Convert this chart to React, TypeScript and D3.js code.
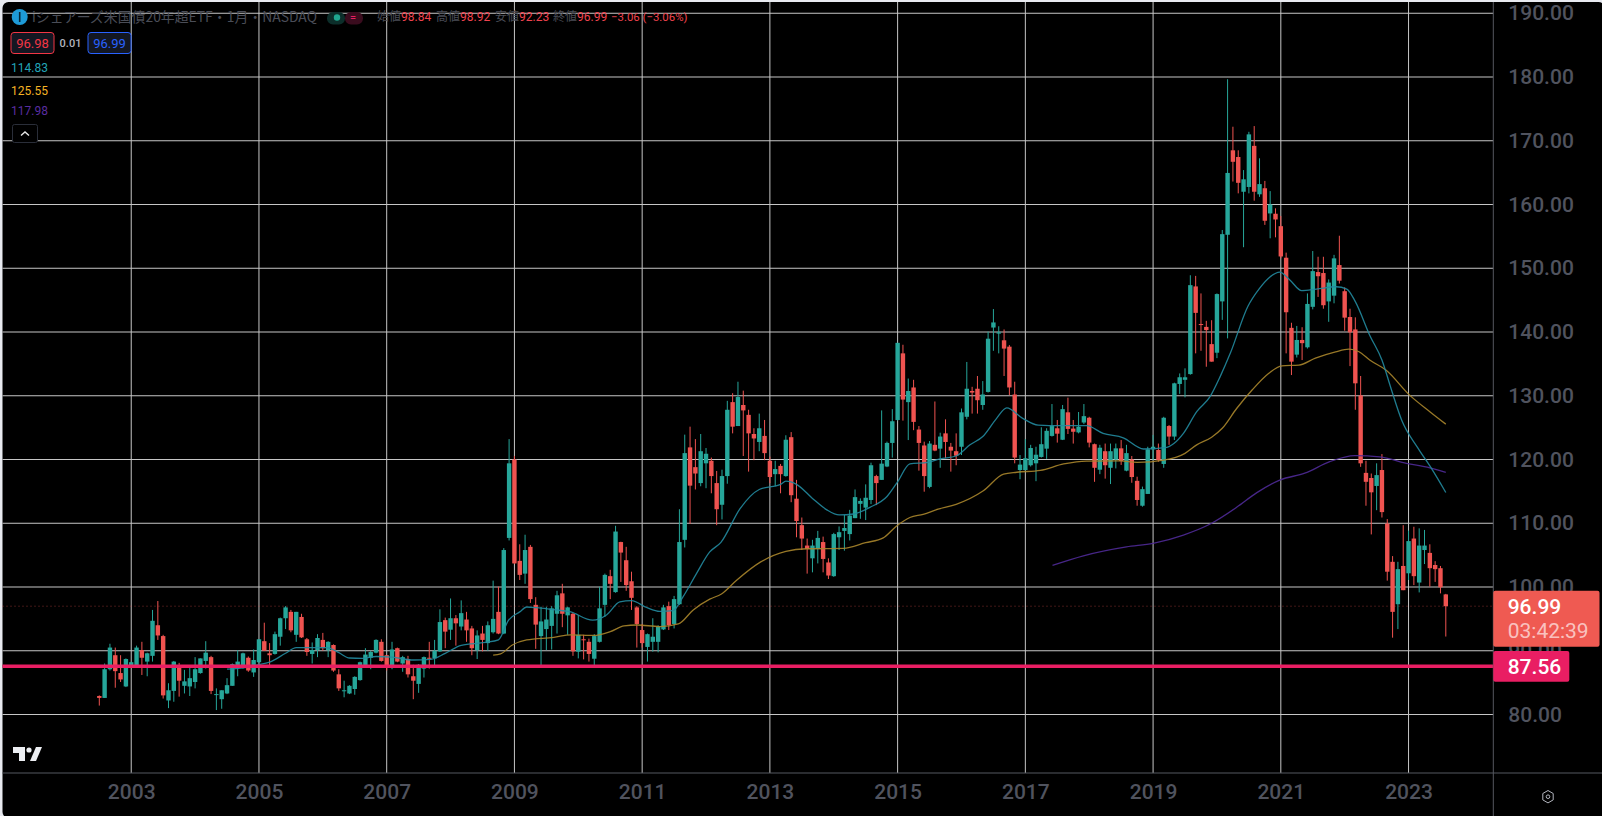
import React, { useEffect, useRef } from 'react';
import * as d3 from 'd3';

// monthly bars, first one is 2002-07
const firstYear = 2002;
const firstMonth = 6;

const opens = [
  82.9, 82.6, 87.1, 89.3, 86.5, 84.4,
  87.6, 87.6, 90.1, 88.3, 89.2, 94.0, 92.3, 82.2, 83.7, 87.6, 84.5, 84.4,
  85.1, 86.5, 88.4, 89.0, 83.1, 82.4, 83.3, 84.5, 87.6, 87.4, 88.9, 86.6,
  88.2, 91.5, 89.6, 89.5, 92.2, 95.1, 96.1, 92.5, 95.3, 91.8, 89.5, 90.1,
  91.7, 90.1, 90.9, 86.3, 83.7, 83.3, 84.0, 85.4, 87.7, 88.9, 89.7, 91.4,
  89.3, 87.7, 90.4, 88.0, 88.7, 86.0, 84.8, 87.2, 88.9, 88.8, 89.9, 94.8,
  93.3, 95.1, 93.8, 94.9, 93.5, 90.1, 92.7, 91.2, 92.9, 96.1, 92.7, 107.7,
  120.0, 104.1, 102.1, 106.3, 97.2, 92.3, 93.4, 93.9, 95.8, 99.0, 95.55, 95.8,
  89.85, 91.8, 91.4, 88.75, 91.4, 97.2, 101.7, 99.2, 107.05, 104.2, 100.9, 96.8,
  93.25, 90.6, 91.4, 91.4, 93.35, 97.0, 94.2, 97.3, 107.4, 121.9, 118.8, 116.3,
  119.4, 119.8, 116.3, 112.9, 117.4, 129.0, 125.25, 128.55, 127.0, 124.0, 122.75, 123.7,
  119.8, 117.7, 119.0, 117.4, 123.5, 113.85, 109.7, 106.5, 104.5, 105.95, 107.05, 103.85,
  101.7, 107.8, 108.8, 108.3, 110.8, 113.05, 112.45, 113.65, 117.4, 116.8, 118.9, 122.6,
  126.2, 136.65, 129.0, 131.3, 124.7, 122.2, 115.7, 122.3, 121.7, 124.1, 122.0, 121.3,
  122.0, 126.7, 130.75, 131.1, 128.55, 130.6, 140.7, 139.75, 138.7, 137.7, 130.2, 118.35,
  118.35, 119.1, 119.4, 120.4, 121.7, 123.7, 124.9, 123.1, 127.4, 124.85, 124.25, 125.8,
  126.55, 122.4, 118.4, 121.3, 118.7, 120.0, 121.75, 118.25, 120.0, 116.65, 112.75, 114.6,
  121.6, 121.5, 119.3, 125.25, 123.6, 131.85, 132.5, 133.4, 147.15, 141.25, 140.8, 138.1,
  136.75, 144.8, 155.25, 168.5, 167.45, 162.0, 162.75, 169.2, 161.6, 162.55, 158.6, 158.55,
  156.6, 151.65, 140.65, 136.45, 138.75, 137.6, 143.95, 149.4, 149.25, 144.8, 145.7, 150.5,
  146.4, 142.35, 140.4, 130.05, 117.9, 117.1, 115.85, 118.35, 109.95, 103.95, 97.3, 103.3,
  102.15, 107.6, 100.7, 105.8, 105.35, 103.45, 102.95, 98.84,
];

const closes = [
  82.6, 87.1, 90.5, 86.8, 85.5, 88.7,
  88.2, 90.5, 88.9, 89.6, 94.7, 92.4, 83.0, 83.8, 88.3, 85.3, 85.2, 85.7,
  87.1, 88.8, 89.7, 83.7, 83.2, 83.8, 84.6, 87.9, 88.3, 89.6, 86.9, 88.55,
  91.8, 90.0, 89.3, 92.6, 95.1, 96.8, 93.2, 96.1, 92.1, 89.8, 90.1, 92.0,
  90.4, 91.4, 86.9, 84.1, 83.8, 84.5, 85.9, 88.2, 89.4, 89.8, 91.7, 88.4,
  87.5, 90.2, 88.3, 89.0, 86.3, 85.3, 87.8, 89.0, 88.8, 90.0, 94.5, 93.0,
  95.1, 94.3, 95.9, 93.2, 90.4, 92.4, 91.7, 94.0, 95.0, 92.7, 105.8, 119.4,
  103.7, 101.9, 105.8, 98.1, 94.1, 94.6, 94.9, 96.65, 98.7, 95.8, 96.8, 89.9,
  92.5, 91.7, 89.5, 92.3, 96.65, 101.9, 100.5, 108.7, 105.4, 100.3, 98.3, 94.2,
  91.2, 92.6, 92.2, 93.8, 96.8, 94.0, 98.1, 107.05, 121.0, 115.9, 117.8, 121.3,
  120.9, 117.4, 112.2, 117.4, 127.8, 125.15, 129.8, 127.7, 124.1, 123.3, 124.9, 121.0,
  117.25, 118.5, 117.7, 123.1, 114.4, 110.35, 107.6, 105.95, 106.5, 107.7, 104.4, 101.8,
  108.3, 108.6, 109.25, 111.2, 114.1, 113.5, 114.0, 119.1, 116.3, 119.35, 122.6, 126.0,
  138.3, 129.4, 130.75, 125.9, 122.6, 117.4, 122.5, 121.4, 123.6, 122.75, 121.4, 120.6,
  127.4, 131.1, 130.5, 129.3, 130.2, 138.95, 141.5, 139.95, 137.4, 131.3, 120.3, 119.2,
  120.2, 121.8, 120.75, 122.4, 124.5, 125.25, 124.05, 127.9, 124.8, 124.35, 125.15, 126.8,
  122.65, 118.7, 121.85, 119.1, 121.3, 121.75, 119.75, 121.0, 117.25, 113.65, 115.35, 121.6,
  122.0, 119.9, 126.55, 123.6, 131.95, 132.9, 132.9, 147.35, 143.0, 141.15, 140.3, 135.35,
  145.95, 155.35, 164.95, 166.7, 163.4, 163.95, 171.0, 162.0, 163.2, 157.45, 160.0, 157.65,
  151.85, 143.1, 135.35, 138.75, 138.25, 144.4, 149.55, 148.75, 144.2, 147.75, 151.55, 148.05,
  142.25, 139.95, 131.95, 119.4, 116.5, 114.85, 117.55, 111.75, 102.4, 96.1, 102.8, 99.5,
  107.2, 101.7, 106.5, 106.5, 102.95, 102.8, 99.95, 96.99,
];

const highs = [
  83.0, 88.0, 91.1, 90.5, 89.3, 88.8,
  88.3, 90.8, 91.4, 89.7, 96.4, 97.8, 92.5, 84.9, 88.4, 88.1, 87.0, 87.4,
  89.0, 88.8, 91.5, 89.2, 84.1, 83.8, 85.7, 88.0, 90.1, 89.7, 89.1, 90.2,
  91.8, 94.4, 91.2, 93.0, 95.2, 97.0, 96.4, 96.1, 95.8, 92.0, 91.3, 92.6,
  92.8, 91.5, 91.0, 87.1, 85.3, 84.6, 86.0, 88.3, 90.4, 90.0, 91.8, 91.8,
  89.3, 91.4, 90.5, 89.2, 89.2, 87.8, 87.9, 89.1, 91.4, 91.7, 96.5, 95.2,
  98.2, 95.6, 97.9, 96.1, 93.9, 93.2, 93.9, 94.6, 101.0, 100.05, 106.1, 123.2,
  120.55, 106.7, 108.2, 106.6, 98.4, 96.9, 96.9, 97.0, 99.4, 100.5, 96.9, 96.0,
  95.6, 92.5, 91.9, 92.6, 100.05, 102.1, 102.7, 109.6, 107.1, 106.3, 102.4, 97.0,
  94.2, 92.7, 95.1, 94.0, 97.2, 97.7, 98.6, 112.2, 123.9, 125.15, 123.2, 124.0,
  121.8, 120.3, 118.2, 118.4, 129.2, 130.4, 132.2, 130.8, 127.8, 124.9, 127.2, 126.2,
  120.45, 119.8, 119.3, 123.8, 124.3, 116.8, 110.9, 107.6, 107.4, 108.8, 107.9, 104.5,
  108.5, 109.5, 111.3, 112.1, 115.3, 113.9, 116.1, 119.5, 117.6, 127.7, 122.8, 127.9,
  138.3, 138.0, 132.7, 132.5, 125.25, 122.8, 122.9, 129.1, 124.2, 126.3, 122.6, 124.1,
  128.0, 135.3, 131.4, 133.1, 132.3, 140.05, 143.6, 140.9, 140.4, 137.95, 132.2, 120.7,
  123.2, 122.3, 122.0, 125.05, 124.9, 128.7, 126.2, 128.55, 129.7, 126.2, 127.45, 128.7,
  126.7, 122.5, 122.3, 122.5, 122.5, 122.5, 123.05, 122.3, 120.55, 117.3, 115.75, 122.0,
  123.85, 122.5, 126.7, 125.4, 132.05, 133.5, 134.3, 148.9, 148.8, 146.05, 141.75, 141.85,
  146.05, 156.0, 179.65, 172.2, 168.5, 165.4, 171.4, 172.3, 167.25, 163.7, 162.1, 159.4,
  158.2, 152.45, 141.45, 140.95, 140.75, 146.05, 152.7, 151.8, 151.8, 148.25, 152.1, 155.1,
  147.0, 143.65, 142.3, 133.1, 119.8, 117.8, 119.4, 120.85, 110.65, 104.85, 103.95, 109.7,
  108.85, 109.45, 109.2, 108.95, 106.7, 104.05, 103.3, 98.92,
];

const lows = [
  81.4, 82.6, 86.9, 84.2, 85.1, 84.3,
  87.5, 87.5, 86.2, 86.0, 88.3, 91.7, 82.5, 81.0, 82.0, 82.8, 83.3, 82.9,
  84.1, 86.4, 87.2, 83.2, 80.7, 80.9, 83.2, 84.5, 86.0, 87.2, 86.7, 85.9,
  88.1, 90.0, 87.7, 89.4, 90.8, 93.4, 92.9, 91.4, 92.0, 89.2, 88.0, 89.0,
  90.0, 89.0, 86.7, 83.7, 82.7, 83.2, 83.1, 85.3, 87.5, 87.1, 89.6, 88.3,
  86.9, 87.1, 88.2, 86.7, 85.8, 82.4, 83.4, 85.8, 87.2, 87.4, 89.8, 90.4,
  91.7, 90.8, 93.2, 91.4, 89.3, 88.7, 89.9, 90.0, 92.7, 92.6, 92.6, 107.3,
  103.6, 101.1, 100.5, 97.5, 90.3, 87.6, 90.1, 90.2, 92.7, 93.7, 92.5, 89.2,
  88.8, 88.65, 88.3, 87.5, 91.3, 95.3, 98.1, 99.1, 100.8, 99.4, 96.4, 90.5,
  90.5, 88.3, 89.85, 89.75, 93.25, 93.25, 93.5, 97.2, 106.2, 109.9, 115.3, 115.8,
  115.5, 114.7, 109.7, 110.6, 116.2, 124.1, 125.25, 120.55, 118.1, 119.9, 121.3, 119.9,
  116.3, 115.8, 114.7, 117.3, 113.3, 107.8, 105.8, 102.1, 102.3, 103.7, 102.3, 101.25,
  101.6, 105.8, 105.7, 107.3, 110.8, 110.7, 110.5, 113.0, 112.85, 116.8, 118.8, 120.3,
  126.1, 126.1, 123.05, 124.6, 118.25, 114.95, 115.5, 121.3, 118.7, 120.2, 118.1, 119.1,
  120.7, 126.3, 127.2, 127.2, 127.8, 130.5, 137.05, 136.65, 133.1, 130.1, 119.4, 116.9,
  118.25, 118.9, 116.6, 120.3, 120.1, 123.6, 122.65, 123.05, 124.0, 122.5, 124.1, 125.55,
  121.9, 116.5, 117.7, 117.0, 116.15, 118.6, 119.15, 118.15, 116.35, 112.75, 112.6, 114.6,
  119.9, 119.65, 118.7, 122.3, 123.05, 130.3, 129.75, 133.3, 136.65, 137.05, 134.55, 135.35,
  135.9, 141.9, 139.0, 163.6, 161.75, 153.3, 161.75, 160.6, 161.2, 156.8, 154.7, 154.85,
  151.55, 136.65, 133.25, 136.0, 135.6, 137.4, 143.55, 145.5, 143.65, 141.6, 144.5, 147.6,
  140.2, 134.65, 127.8, 118.85, 112.75, 108.25, 112.05, 110.9, 101.0, 92.05, 93.4, 99.5,
  101.1, 100.3, 99.15, 103.6, 100.05, 100.8, 99.0, 92.23,
];

const cyanBars = [24, 27.7, 29.5, 32, 35, 37, 39, 42.7, 45, 47, 49.5, 52, 55, 59, 62.3, 65, 68, 72.5, 75, 76.9, 79, 80.3, 82.2, 85.3, 88.4, 92.7, 95.3, 97.8, 100, 102.8, 105.3, 107.8, 109.7, 112.2, 114.7, 116.8, 120.4, 124, 128, 129, 131, 134, 136.7, 139, 141.7, 144.8, 148, 150, 152.3, 155.7, 158, 161, 163.6, 166, 168.6, 170.5, 173.5, 176.4, 180.5, 185.5, 188.6, 192.4, 196.2, 200.6, 201.9, 203.7, 206.2, 208.7, 210.6, 212.5, 215.8, 218, 219.9, 221.8, 223.7, 225.9, 228.7, 232.4, 234.4, 236, 238.7, 241, 242.8, 244.7, 247.8, 250.3, 253];
const cyanValues = [87.13, 87.4, 87.76, 88.2, 89.6, 90.5, 90.5, 90.5, 89.7, 88.86, 88.8, 89.1, 89.0, 88.55, 88.65, 89.6, 90.85, 91.3, 91.7, 94.8, 96.1, 96.86, 96.76, 96.44, 96.13, 94.8, 95.6, 97.65, 97.86, 96.8, 96.18, 96.3, 98.5, 102.1, 105.5, 107.0, 112.3, 115.3, 116.1, 116.6, 116.1, 113.9, 112.1, 111.3, 111.45, 112.5, 114.2, 116.5, 119.3, 119.56, 120.08, 120.55, 122.3, 123.6, 126.46, 128.1, 126.46, 125.4, 125.3, 125.3, 124.1, 123.4, 121.65, 121.9, 122.5, 124.1, 127.5, 129.85, 133, 136.65, 144, 146.85, 148.6, 149.4, 148.16, 146.5, 146.74, 147.1, 146.74, 144.76, 139.5, 135.6, 130.9, 126.2, 121.75, 118.6, 114.83];

const goldBars = [74, 75.4, 77.6, 80.3, 85.4, 88.6, 92.9, 96, 98.6, 101, 105.3, 108.8, 111.6, 114.7, 116.9, 119.8, 124.2, 129, 132.9, 139.8, 144, 147.3, 149.7, 152.3, 154.8, 157.6, 161, 166.1, 169.9, 172.4, 176.8, 181.2, 185.5, 191.8, 195, 200, 204, 206.2, 209, 211, 213.7, 216.6, 219.7, 222.2, 225.4, 228.5, 232.3, 234.8, 236.7, 238.7, 241.8, 246.2, 250, 253];
const goldValues = [89.3, 89.5, 90.9, 91.7, 92.1, 92.5, 92.4, 93, 93.9, 94.04, 93.8, 94.2, 96.4, 98.1, 98.9, 101.1, 103.9, 105.6, 106, 106.06, 106.95, 107.7, 109.5, 110.9, 111.4, 112.2, 112.97, 115.1, 117.7, 118, 118.3, 119.3, 119.76, 119.8, 119.55, 119.9, 120.97, 122.3, 123.5, 124.9, 128, 130.9, 133.5, 134.7, 134.8, 135.9, 136.9, 137.3, 136.9, 135.6, 134, 130.1, 127.5, 125.55];

const purpleBars = [179.1, 184.9, 193, 198, 203.7, 209, 213.7, 217.5, 221.9, 226.5, 231.2, 235.9, 240.6, 245.6, 250, 253];
const purpleValues = [103.4, 104.9, 106.3, 106.85, 108.15, 110, 112.5, 114.8, 116.8, 117.85, 119.66, 120.6, 120.4, 119.4, 118.7, 117.98];

const priceTicks = [80, 90, 100, 110, 120, 130, 140, 150, 160, 170, 180, 190];
const yearTicks = [2003, 2005, 2007, 2009, 2011, 2013, 2015, 2017, 2019, 2021, 2023];

const supportLevel = 87.56;
const lastPrice = 96.99;
const countdown = '03:42:39';
const title = 'iシェアーズ米国債20年超ETF・1月・NASDAQ';
const ohlcLegend = [
  { label: '始値', value: '98.84' },
  { label: '高値', value: '98.92' },
  { label: '安値', value: '92.23' },
  { label: '終値', value: '96.99' },
];

const UP = '#26a69a';
const DOWN = '#ef5350';
const PINK = '#e91e63';
const AXIS_TEXT = '#50535e';
const WIDTH = 1602;
const HEIGHT = 816;
const SCALE_X = 1493.3; // left edge of the price scale
const TIME_Y = 773; // top edge of the time scale
const LATIN = 'Roboto, sans-serif';
const CJK = '"Noto Sans CJK JP", Roboto, sans-serif';

const App: React.FC = () => {
  const svgRef = useRef<SVGSVGElement | null>(null);

  useEffect(() => {
    if (!svgRef.current) return;
    document.body.style.margin = '0';

    const svg = d3.select(svgRef.current);
    svg.selectAll('*').remove();

    const x = d3.scaleLinear().domain([0, opens.length - 1]).range([99.3, 1445.8]);
    const y = d3.scaleLinear().domain([80, 190]).range([714.5, 13.25]);
    const yearToBar = (year: number) => (year - firstYear) * 12 - firstMonth;

    // window frame and background
    svg.append('rect').attr('width', WIDTH).attr('height', HEIGHT).attr('fill', '#e8eaf0');
    svg.append('rect').attr('x', 2.5).attr('y', 2).attr('width', WIDTH).attr('height', HEIGHT)
      .attr('rx', 6).attr('fill', '#000');

    // grid
    const grid = svg.append('g').attr('stroke', '#c6c6c6').attr('stroke-width', 1);
    grid.selectAll('.h').data(priceTicks).enter().append('line')
      .attr('x1', 2.5).attr('x2', SCALE_X).attr('y1', d => y(d)).attr('y2', d => y(d));
    grid.selectAll('.v').data(yearTicks).enter().append('line')
      .attr('x1', d => x(yearToBar(d))).attr('x2', d => x(yearToBar(d)))
      .attr('y1', 2).attr('y2', TIME_Y);

    // last price dotted line
    svg.append('line')
      .attr('x1', 2.5).attr('x2', SCALE_X).attr('y1', y(lastPrice)).attr('y2', y(lastPrice))
      .attr('stroke', DOWN).attr('stroke-opacity', 0.55).attr('stroke-dasharray', '1 3');

    // candles
    const bars = d3.range(opens.length);
    const colorOf = (i: number) => (closes[i] >= opens[i] ? UP : DOWN);
    svg.append('g').selectAll('line').data(bars).enter().append('line')
      .attr('x1', i => x(i)).attr('x2', i => x(i))
      .attr('y1', i => y(highs[i])).attr('y2', i => y(lows[i]))
      .attr('stroke', colorOf).attr('stroke-width', 1);
    svg.append('g').selectAll('rect').data(bars).enter().append('rect')
      .attr('x', i => x(i) - 2.2).attr('width', 4.4)
      .attr('y', i => y(Math.max(opens[i], closes[i])))
      .attr('height', i => Math.max(1, Math.abs(y(opens[i]) - y(closes[i]))))
      .attr('fill', colorOf);

    // moving averages
    const drawAverage = (barsAt: number[], values: number[], color: string) => {
      const line = d3.line<number>()
        .x(d => x(d))
        .y((_, i) => y(values[i]))
        .curve(d3.curveMonotoneX);
      svg.append('path')
        .attr('d', line(barsAt))
        .attr('fill', 'none')
        .attr('stroke', color)
        .attr('stroke-width', 1.3)
        .attr('stroke-opacity', 0.9);
    };
    drawAverage(purpleBars, purpleValues, '#4f2a97');
    drawAverage(goldBars, goldValues, '#a9852b');
    drawAverage(cyanBars, cyanValues, '#22899f');

    // horizontal level
    svg.append('line')
      .attr('x1', 2.5).attr('x2', SCALE_X).attr('y1', y(supportLevel)).attr('y2', y(supportLevel))
      .attr('stroke', PINK).attr('stroke-width', 3.6);

    // scales
    svg.append('line').attr('x1', SCALE_X).attr('x2', SCALE_X).attr('y1', 2).attr('y2', HEIGHT)
      .attr('stroke', '#555860');
    svg.append('line').attr('x1', 2.5).attr('x2', WIDTH).attr('y1', TIME_Y).attr('y2', TIME_Y)
      .attr('stroke', '#555860');

    const yAxis = svg.append('g')
      .attr('transform', `translate(${SCALE_X},0)`)
      .call(d3.axisRight(y).tickValues(priceTicks).tickFormat(d => d3.format('.2f')(d as number)).tickSize(0).tickPadding(15));
    const xAxis = svg.append('g')
      .attr('transform', `translate(0,${TIME_Y})`)
      .call(d3.axisBottom(x).tickValues(yearTicks.map(yearToBar)).tickFormat(d => String(yearTicks[yearTicks.map(yearToBar).indexOf(d as number)])).tickSize(0).tickPadding(11));
    [yAxis, xAxis].forEach(axis => {
      axis.select('.domain').remove();
      axis.selectAll('text')
        .attr('fill', AXIS_TEXT)
        .style('font-family', LATIN)
        .style('font-size', '21px')
        .style('font-weight', 500);
    });

    // price labels on the scale
    const tag = svg.append('g').style('font-family', LATIN).style('font-size', '21px').style('font-weight', 500);
    tag.append('rect').attr('x', SCALE_X).attr('y', 590.7).attr('width', 106.2).attr('height', 56).attr('rx', 2).attr('fill', '#ef5a52');
    tag.append('text').attr('x', 1507.7).attr('y', 613.5).attr('fill', '#fff').text(lastPrice.toFixed(2));
    tag.append('text').attr('x', 1507.7).attr('y', 638).attr('fill', '#fff').attr('fill-opacity', 0.65).style('font-weight', 400).text(countdown);
    tag.append('rect').attr('x', SCALE_X).attr('y', 651).attr('width', 76).attr('height', 30.7).attr('rx', 2).attr('fill', PINK);
    tag.append('text').attr('x', 1507.7).attr('y', 674).attr('fill', '#fff').text(supportLevel.toFixed(2));

    // legend row
    const legend = svg.append('g');
    legend.append('circle').attr('cx', 19.7).attr('cy', 17).attr('r', 8).attr('fill', '#1e9bd8');
    legend.append('rect').attr('x', 18.9).attr('y', 12).attr('width', 1.6).attr('height', 10).attr('fill', '#06283a');
    legend.append('text').attr('x', 32).attr('y', 22).attr('fill', '#4a4d57')
      .style('font-family', CJK).style('font-size', '13.9px').text(title);

    legend.append('rect').attr('x', 327).attr('y', 12).attr('width', 18).attr('height', 12.5).attr('rx', 6).attr('fill', '#0c2e2a');
    legend.append('rect').attr('x', 345).attr('y', 12).attr('width', 18).attr('height', 12.5).attr('rx', 6).attr('fill', '#3a0c1e');
    legend.append('circle').attr('cx', 337).attr('cy', 17.5).attr('r', 3.2).attr('fill', '#1fa58e');
    legend.append('text').attr('x', 353).attr('y', 21).attr('text-anchor', 'middle').attr('fill', PINK)
      .style('font-family', LATIN).style('font-size', '11px').text('=');

    const ohlcX = [377, 436, 495, 553];
    ohlcLegend.forEach((d, i) => {
      legend.append('text').attr('x', ohlcX[i]).attr('y', 21).attr('fill', '#4a4d57')
        .style('font-family', CJK).style('font-size', '12px').text(d.label);
      legend.append('text').attr('x', ohlcX[i] + 24).attr('y', 21).attr('fill', '#f0434f')
        .style('font-family', LATIN).style('font-size', '12px').text(d.value);
    });
    legend.append('text').attr('x', 611).attr('y', 21).attr('fill', '#f0434f')
      .style('font-family', LATIN).style('font-size', '11.4px').text('−3.06 (−3.06%)');

    // bid / ask boxes
    const quote = (bx: number, value: string, color: string) => {
      legend.append('rect').attr('x', bx).attr('y', 32.5).attr('width', 43).attr('height', 21).attr('rx', 3)
        .attr('fill', '#131722').attr('stroke', color);
      legend.append('text').attr('x', bx + 21.5).attr('y', 47.5).attr('text-anchor', 'middle').attr('fill', color)
        .style('font-family', LATIN).style('font-size', '13px').text(value);
    };
    quote(11, '96.98', '#f23645');
    quote(88, '96.99', '#2962ff');
    legend.append('text').attr('x', 70.5).attr('y', 47).attr('text-anchor', 'middle').attr('fill', '#b2b5be')
      .style('font-family', LATIN).style('font-size', '11px').style('font-weight', 500).text('0.01');

    // indicator values
    const indicators = [
      { value: '114.83', color: '#22a5b8', at: 72 },
      { value: '125.55', color: '#f5b324', at: 94.5 },
      { value: '117.98', color: '#5a2da0', at: 115 },
    ];
    indicators.forEach(d => {
      legend.append('text').attr('x', 11).attr('y', d.at).attr('fill', d.color)
        .style('font-family', LATIN).style('font-size', '12px').text(d.value);
    });

    // collapse button
    legend.append('rect').attr('x', 12.5).attr('y', 124.5).attr('width', 25).attr('height', 18).attr('rx', 2)
      .attr('fill', '#000').attr('stroke', '#2a2e39');
    legend.append('path').attr('d', 'M21 135.5l4-3.5 4 3.5').attr('fill', 'none').attr('stroke', '#e8e8e8').attr('stroke-width', 1.4);

    // logo and settings icon
    const logo = svg.append('g').attr('fill', '#eceef2');
    logo.append('path').attr('d', 'M13 747h12v14h-6v-8h-6z');
    logo.append('circle').attr('cx', 29).attr('cy', 750).attr('r', 2.6);
    logo.append('path').attr('d', 'M36 747h6l-6 14h-6z');
    svg.append('path').attr('d', 'M1548 790.5l5.2 3v6.4l-5.2 3-5.2-3v-6.4z').attr('fill', 'none').attr('stroke', '#b2b5be');
    svg.append('circle').attr('cx', 1548).attr('cy', 796.7).attr('r', 1.8).attr('fill', 'none').attr('stroke', '#b2b5be');
  }, []);

  return <svg ref={svgRef} width={WIDTH} height={HEIGHT} style={{ position: 'absolute', left: 0, top: 0, display: 'block' }} />;
};

export default App;
